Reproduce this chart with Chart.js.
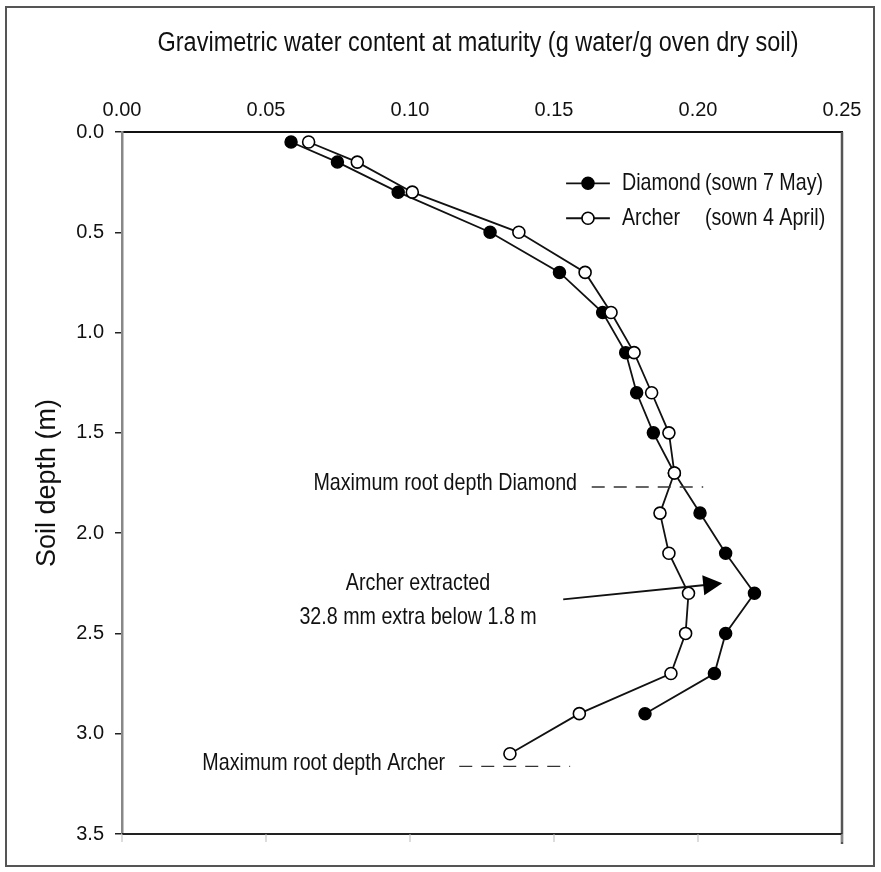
<!DOCTYPE html>
<html>
<head>
<meta charset="utf-8">
<script src="https://cdn.jsdelivr.net/npm/chart.js@4.4.1/dist/chart.umd.min.js"></script>
<style>
  html, body { margin: 0; padding: 0; background: #fff; }
  #wrap { width: 881px; height: 872px; }
</style>
</head>
<body>
<div id="wrap"><canvas id="myChart"></canvas></div>
<script>
// Profundidad del suelo (m) y contenido gravimetrico de agua
var diamondDepth = [0.05, 0.15, 0.3, 0.5, 0.7, 0.9, 1.1, 1.3, 1.5, 1.7, 1.9, 2.1, 2.3, 2.5, 2.7, 2.9];
var diamondWater = [0.0587, 0.0748, 0.0959, 0.1278, 0.1519, 0.1669, 0.1749, 0.1787, 0.1845, 0.1918, 0.2007, 0.2096, 0.2196, 0.2096, 0.2057, 0.1816];
var archerDepth = [0.05, 0.15, 0.3, 0.5, 0.7, 0.9, 1.1, 1.3, 1.5, 1.7, 1.9, 2.1, 2.3, 2.5, 2.7, 2.9, 3.1];
var archerWater = [0.0648, 0.0817, 0.1008, 0.1378, 0.1608, 0.1698, 0.1778, 0.1839, 0.1899, 0.1918, 0.1868, 0.1899, 0.1967, 0.1957, 0.1906, 0.1588, 0.1347];
var seriesNames = ['Diamond', 'Archer'];
var sownDates = ['(sown 7 May)', '(sown 4 April)'];
var xTickLabels = ['0.00', '0.05', '0.10', '0.15', '0.20', '0.25'];
var yTickLabels = ['0.0', '0.5', '1.0', '1.5', '2.0', '2.5', '3.0', '3.5'];
var xTitle = 'Gravimetric water content at maturity (g water/g oven dry soil)';

var sans = "'Liberation Sans', Arial, sans-serif";
Chart.defaults.font.family = sans;
Chart.defaults.color = '#111';

function puntos(xs, ys) {
  return xs.map(function(v, i) { return { x: v, y: ys[i] }; });
}

// texto estrecho (no hay Arial Narrow instalada): se escala en horizontal
function textoEstrecho(c, txt, x, y, align, size, sx) {
  c.save();
  c.font = size + 'px ' + sans;
  c.textBaseline = 'middle';
  c.textAlign = align;
  c.translate(x, y);
  c.scale(sx, 1);
  c.fillText(txt, 0, 0);
  c.restore();
}

// Textos, lineas discontinuas y flecha (en unidades de los ejes)
var notas = {
  id: 'notas',
  beforeDraw: function(chart) {
    var c = chart.ctx;
    c.save();
    c.fillStyle = '#fff';
    c.fillRect(0, 0, chart.width, chart.height);
    c.strokeStyle = '#555';
    c.lineWidth = 2;
    c.strokeRect(6, 7, 868, 859); // marco exterior
    c.restore();
  },
  afterDraw: function(chart) {
    var c = chart.ctx, a = chart.chartArea;
    var sx = chart.scales.x, sy = chart.scales.y;
    function px(v) { return sx.getPixelForValue(v); }
    function py(v) { return sy.getPixelForValue(v); }
    c.save();
    // borde derecho e inferior
    c.strokeStyle = '#555'; c.lineWidth = 2.5;
    c.beginPath(); c.moveTo(a.right, a.top); c.lineTo(a.right, a.bottom + 10); c.stroke();
    c.strokeStyle = '#222'; c.lineWidth = 2;
    c.beginPath(); c.moveTo(a.left, a.bottom); c.lineTo(a.right, a.bottom); c.stroke();
    c.strokeStyle = '#bbb'; c.lineWidth = 1;
    sx.ticks.forEach(function(t) {
      var x = px(t.value);
      c.beginPath(); c.moveTo(x, a.bottom); c.lineTo(x, a.bottom + 8); c.stroke();
    });

    c.fillStyle = '#111';
    // titulo del eje x
    textoEstrecho(c, xTitle, (a.left + a.right) / 2 - 4, 44, 'center', 27, 0.87);
    // textos
    textoEstrecho(c, 'Maximum root depth Diamond', px(0.158), py(1.75), 'right', 24, 0.82);
    textoEstrecho(c, 'Maximum root depth Archer', px(0.1122), py(3.146), 'right', 24, 0.82);
    textoEstrecho(c, 'Archer extracted', px(0.1028), py(2.248), 'center', 24, 0.82);
    textoEstrecho(c, '32.8 mm extra below 1.8 m', px(0.1028), py(2.418), 'center', 24, 0.82);

    // lineas discontinuas
    c.strokeStyle = '#333'; c.lineWidth = 1.4;
    c.setLineDash([13, 9]);
    c.beginPath(); c.moveTo(px(0.1631), py(1.77)); c.lineTo(px(0.2018), py(1.77)); c.stroke();
    c.beginPath(); c.moveTo(px(0.1171), py(3.163)); c.lineTo(px(0.1556), py(3.163)); c.stroke();
    c.setLineDash([]);

    // flecha
    var x0 = px(0.1532), y0 = py(2.33), x1 = px(0.2084), y1 = py(2.25);
    var ang = Math.atan2(y1 - y0, x1 - x0);
    c.strokeStyle = '#111'; c.lineWidth = 1.8;
    c.beginPath(); c.moveTo(x0, y0); c.lineTo(x1 - 17 * Math.cos(ang), y1 - 17 * Math.sin(ang)); c.stroke();
    c.fillStyle = '#000';
    c.beginPath();
    c.moveTo(x1, y1);
    c.lineTo(x1 - 19 * Math.cos(ang) + 10 * Math.sin(ang), y1 - 19 * Math.sin(ang) - 10 * Math.cos(ang));
    c.lineTo(x1 - 19 * Math.cos(ang) - 10 * Math.sin(ang), y1 - 19 * Math.sin(ang) + 10 * Math.cos(ang));
    c.closePath(); c.fill();

    // leyenda
    var ly = [0.256, 0.43];
    chart.data.datasets.forEach(function(ds, i) {
      var y = py(ly[i]);
      c.strokeStyle = ds.borderColor; c.lineWidth = ds.borderWidth;
      c.beginPath(); c.moveTo(px(0.1542), y); c.lineTo(px(0.1694), y); c.stroke();
      c.beginPath(); c.arc(px(0.1618), y, ds.pointRadius, 0, Math.PI * 2);
      c.fillStyle = ds.pointBackgroundColor; c.fill();
      c.lineWidth = ds.pointBorderWidth; c.strokeStyle = ds.pointBorderColor; c.stroke();
      c.fillStyle = '#111';
      textoEstrecho(c, seriesNames[i], px(0.1736), y, 'left', 24, 0.82);
      textoEstrecho(c, sownDates[i], px(0.2024), y, 'left', 24, 0.82);
    });
    c.restore();
  }
};

var data = {
  datasets: [{
    label: seriesNames[0] + ' ' + sownDates[0],
    data: puntos(diamondWater, diamondDepth),
    showLine: true,
    borderColor: '#111',
    borderWidth: 1.8,
    pointRadius: 6,
    pointBackgroundColor: '#000',
    pointBorderColor: '#000',
    pointBorderWidth: 1.5,
    order: 2
  }, {
    label: seriesNames[1] + ' ' + sownDates[1],
    data: puntos(archerWater, archerDepth),
    showLine: true,
    borderColor: '#111',
    borderWidth: 1.8,
    pointRadius: 6,
    pointBackgroundColor: '#fff',
    pointBorderColor: '#000',
    pointBorderWidth: 1.6,
    order: 1
  }]
};

var options = {
  responsive: true,
  maintainAspectRatio: false,
  animation: false,
  layout: { padding: { left: 0, top: 0, right: 39, bottom: 38 } },
  plugins: { legend: { display: false }, tooltip: { enabled: false } },
  scales: {
    x: {
      type: 'linear',
      position: 'top',
      min: 0, max: 0.25,
      afterFit: function(s) { s.height = 132; },
      ticks: {
        stepSize: 0.05,
        padding: 10,
        font: { size: 20 },
        callback: function(v) { return xTickLabels[Math.round(v / 0.05)]; }
      },
      grid: { display: false, drawTicks: false },
      border: { color: '#111', width: 2 }
    },
    y: {
      type: 'linear',
      reverse: true,
      min: 0, max: 3.5,
      afterFit: function(s) { s.width = 122; },
      ticks: {
        stepSize: 0.5,
        padding: 11,
        font: { size: 20 },
        callback: function(v) { return yTickLabels[Math.round(v / 0.5)]; }
      },
      grid: { drawOnChartArea: false, drawTicks: true, tickLength: 7, color: '#222', lineWidth: 1.5 },
      border: { color: '#888', width: 2.5 },
      title: {
        display: true,
        text: 'Soil depth (m)',
        font: { size: 27 },
        padding: { top: 31, bottom: 0 }
      }
    }
  }
};

var ctx = document.getElementById('myChart').getContext('2d');
var myChart = new Chart(ctx, {
  type: 'scatter',
  data: data,
  options: options,
  plugins: [notas]
});
</script>
</body>
</html>
